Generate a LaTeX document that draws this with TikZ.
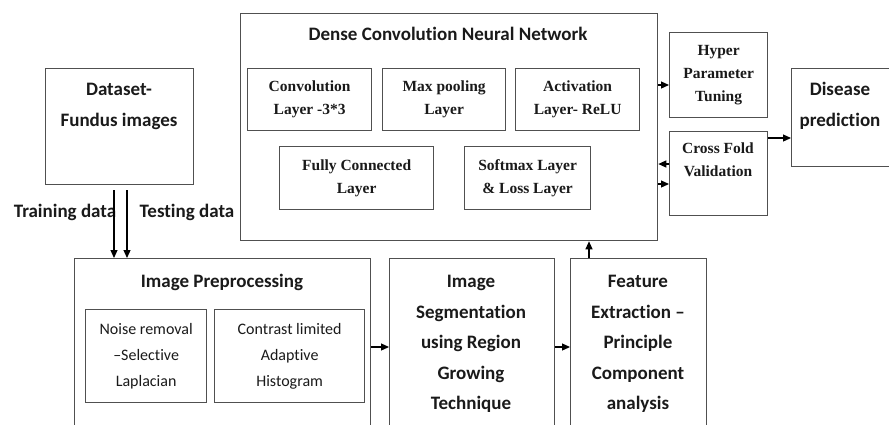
\documentclass[tikz,border=0pt]{standalone}
\usepackage{fontspec}
\setmainfont{Carlito}[Ligatures={NoCommon}]
\newfontfamily\tnr{Liberation Serif}
\usetikzlibrary{arrows.meta}
\definecolor{edge}{HTML}{505050}
\definecolor{ink}{HTML}{1A1A1A}
\begin{document}
\begin{tikzpicture}[x=1pt,y=-1pt,
  box/.style={draw=edge, line width=1.3pt, inner sep=0pt, anchor=north west, text=ink},
  ttl/.style={font=\fontsize{19}{31}\selectfont\bfseries, align=center, inner sep=0pt, text=ink},
  lyr/.style={font=\tnr\fontsize{15.5}{23}\selectfont\bfseries, align=center},
  sub/.style={font=\fontsize{16}{26}\selectfont, align=center},
  arr/.style={-{Triangle[length=8pt,width=7pt]}, line width=1.2pt, draw=black}]
\clip (0,0) rectangle (889,424);
\fill[white] (0,0) rectangle (889,424);

% input data
\node[box, minimum width=148pt, minimum height=116pt] (data) at (45,68) {};
\node[ttl] (datat) at (119,106) {Dataset-\\Fundus images};
\node[ttl] (train) at (65,212) {Training data};
\node[ttl] (test) at (187,212) {Testing data};

% dense network with its layers
\node[box, minimum width=417pt, minimum height=227pt] (dense) at (240,13) {};
\node[ttl] (denset) at (448,34) {Dense Convolution Neural Network};
\node[box, lyr, minimum width=124pt, minimum height=62pt] (conv) at (247,68) {Convolution\\Layer -3*3};
\node[box, lyr, minimum width=123pt, minimum height=62pt] (pool) at (382,68) {Max pooling\\Layer};
\node[box, lyr, minimum width=124pt, minimum height=62pt] (act) at (515,68) {Activation\\Layer- ReLU};
\node[box, lyr, minimum width=154pt, minimum height=63pt] (fc) at (279,146) {Fully Connected\\Layer};
\node[box, lyr, minimum width=126pt, minimum height=63pt] (soft) at (464,146) {Softmax Layer\\\& Loss Layer};

% tuning, validation and output
\node[box, lyr, minimum width=98pt, minimum height=85pt] (hyper) at (669,32) {Hyper\\Parameter\\Tuning};
\node[box, minimum width=98pt, minimum height=84pt] (cross) at (669,131) {};
\node[lyr, text=ink] (crosst) at (718,160) {Cross Fold\\Validation};
\node[box, minimum width=110pt, minimum height=98pt] (dis) at (791,68) {};
\node[ttl] (dist) at (840,106) {Disease\\prediction};

% preprocessing stage
\node[box, minimum width=296pt, minimum height=180pt] (pre) at (74,258) {};
\node[ttl] (pret) at (222,282) {Image Preprocessing};
\node[box, sub, minimum width=121pt, minimum height=93pt] (noise) at (85,309) {Noise removal\\–Selective\\Laplacian};
\node[box, sub, minimum width=150pt, minimum height=93pt] (clahe) at (214,309) {Contrast limited\\Adaptive\\Histogram};

% segmentation and feature extraction
\node[box, minimum width=165pt, minimum height=180pt] (seg) at (389,258) {};
\node[ttl, font=\fontsize{19}{30.5}\selectfont\bfseries] (segt) at (471,344) {Image\\Segmentation\\using Region\\Growing\\Technique};
\node[box, minimum width=136pt, minimum height=180pt] (feat) at (570,258) {};
\node[ttl, font=\fontsize{19}{30.5}\selectfont\bfseries] (featt) at (638,344) {Feature\\Extraction –\\Principle\\Component\\analysis};

% connectors
\draw[arr, shorten <=5pt] (data.south -| 114,0) -- (pre.north -| 114,0);
\draw[arr, shorten <=5pt] (data.south -| 127,0) -- (pre.north -| 127,0);
\draw[arr] (pre.east |- 0,347) -- (seg.west |- 0,347);
\draw[arr] (seg.east |- 0,347) -- (feat.west |- 0,347);
\draw[arr] (feat.north -| 589,0) -- (dense.south -| 589,0);
\draw[arr] (dense.east |- 0,85) -- (hyper.west |- 0,85);
\draw[arr] (cross.west |- 0,164) -- (dense.east |- 0,164);
\draw[arr] (dense.east |- 0,184) -- (cross.west |- 0,184);
\draw[arr] (cross.east |- 0,138) -- (dis.west |- 0,138);
\end{tikzpicture}
\end{document}
